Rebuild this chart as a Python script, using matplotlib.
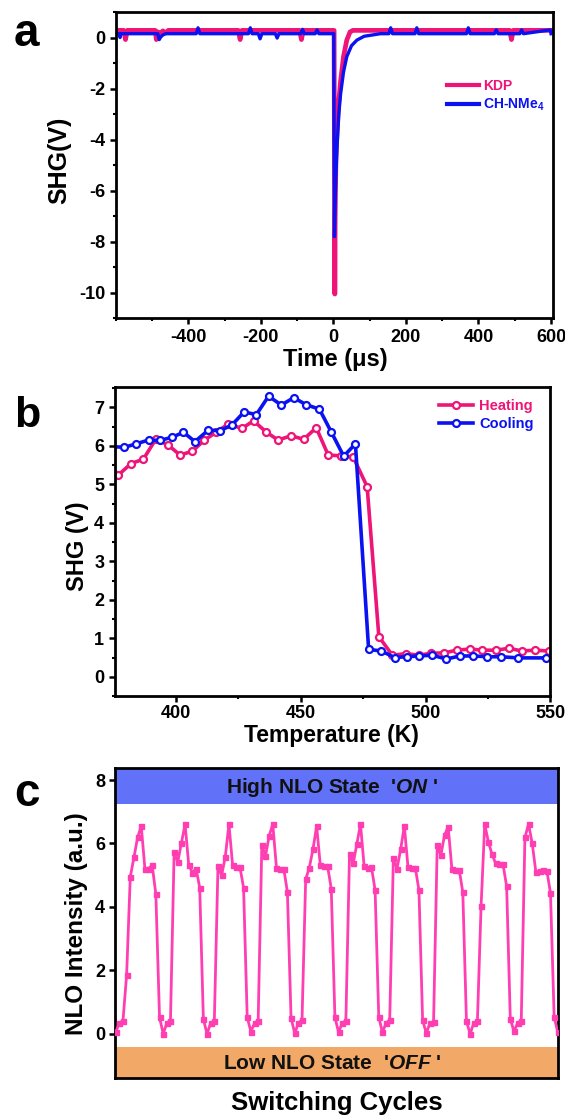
import matplotlib
matplotlib.use('Agg')
import matplotlib.pyplot as plt
from matplotlib.ticker import MultipleLocator, NullLocator
import numpy as np

plt.rcParams['font.family'] = ['Liberation Sans', 'DejaVu Sans']
plt.rcParams['font.weight'] = 'bold'
plt.rcParams['axes.labelweight'] = 'bold'
plt.rcParams['axes.unicode_minus'] = False
plt.rcParams['mathtext.fontset'] = 'custom'
plt.rcParams['mathtext.rm'] = 'Liberation Sans:bold'
plt.rcParams['mathtext.bf'] = 'Liberation Sans:bold'
plt.rcParams['mathtext.it'] = 'Liberation Sans:italic:bold'
plt.rcParams['mathtext.default'] = 'bf'

# ---------------- data: panel a (SHG signal vs time) ----------------
kdp_t = [-600, -578, -573, -568, -496, -491, -488, -484, -476, -470, -462, -455,
         -262, -257, -252, -93, -88, -83, 2, 4, 5, 7, 10, 15, 20, 28, 37, 46, 54,
         486, 491, 496, 600]
kdp_v = [0.28, 0.28, -0.08, 0.28, 0.28, 0.28, -0.08, 0.22, 0.18, 0.26, 0.18, 0.28,
         0.28, -0.08, 0.28, 0.28, -0.08, 0.28, 0.28, -10.05, -7.0, -4.8, -3.7, -2.5,
         -1.7, -0.75, -0.1, 0.22, 0.28, 0.28, -0.08, 0.28, 0.28]
ch_t = [-600, -590, -588, -586, -484, -480, -476, -470, -462, -378, -373, -368,
        -234, -229, -224, -207, -202, -197, -160, -155, -150, -90, -85, -80,
        -50, -45, -40, 1, 3, 6, 10, 15, 20, 28, 37, 50, 65, 85, 130,
        153, 158, 163, 225, 230, 235, 367, 372, 377, 444, 449, 454, 514, 519, 524,
        598, 600]
ch_v = [0.15, 0.15, 0.0, 0.15, 0.15, -0.08, 0.02, 0.1, 0.15, 0.15, 0.38, 0.15,
        0.15, 0.38, 0.15, 0.15, -0.05, 0.15, 0.15, -0.02, 0.15, 0.15, 0.32, 0.15,
        0.15, 0.3, 0.15, 0.15, -7.8, -5.8, -4.3, -3.0, -2.2, -1.35, -0.75, -0.32,
        -0.1, 0.05, 0.15, 0.15, 0.38, 0.15, 0.15, 0.38, 0.15, 0.15, 0.38, 0.15,
        0.15, 0.3, 0.15, 0.15, 0.3, 0.15, 0.3, 0.15]

# ---------------- data: panel b (SHG vs temperature) ----------------
heat_T = [372.5, 376.9, 382.0, 386.9, 391.9, 396.7, 401.6, 406.6, 411.4, 416.1,
          421.0, 426.4, 431.1, 436.1, 440.9, 446.1, 451.2, 456.2, 461.0, 466.0,
          471.0, 476.6, 481.3, 486.7, 492.0, 497.4, 502.1, 507.4, 512.5, 517.8,
          522.8, 528.2, 533.5, 538.5, 543.9, 549.3]
heat_V = [5.60, 5.24, 5.54, 5.65, 6.17, 6.03, 5.76, 5.86, 6.15, 6.35,
          6.57, 6.45, 6.65, 6.36, 6.15, 6.26, 6.17, 6.47, 5.76, 5.74,
          5.71, 4.94, 1.04, 0.56, 0.60, 0.56, 0.61, 0.62, 0.69, 0.72,
          0.69, 0.69, 0.74, 0.67, 0.69, 0.67]
cool_T = [374.5, 379.3, 384.0, 389.0, 393.6, 398.3, 403.0, 407.6, 413.0, 417.6,
          422.4, 427.3, 432.2, 437.1, 442.2, 447.2, 452.1, 457.5, 462.3, 467.2,
          471.9, 477.2, 482.3, 487.6, 492.4, 497.4, 502.7, 508.3, 513.8, 519.2,
          524.8, 530.1, 537.2, 548.1]
cool_V = [5.98, 5.96, 6.05, 6.15, 6.14, 6.22, 6.35, 6.11, 6.41, 6.39,
          6.54, 6.88, 6.81, 7.29, 7.06, 7.25, 7.07, 6.95, 6.35, 5.73,
          6.05, 0.71, 0.67, 0.50, 0.52, 0.54, 0.56, 0.46, 0.54, 0.54,
          0.52, 0.52, 0.49, 0.49]

# ---------------- data: panel c (switching cycles) ----------------
cyc1 = [0.05, 0.34, 0.42, 1.86, 4.95, 5.56, 6.19, 6.55, 5.21, 5.21, 5.31, 4.40, 0.53, 0.00, 0.34, 0.42]
cyc2 = [5.72, 5.42, 6.02, 6.61, 5.32, 5.08, 5.21, 4.61, 0.47, 0.00, 0.34, 0.40]
cyc3 = [5.29, 5.00, 5.58, 6.61, 5.32, 5.26, 5.26, 4.61, 0.53, 0.07, 0.34, 0.42]
cyc4 = [5.95, 5.60, 6.24, 6.61, 5.24, 5.19, 5.21, 4.47, 0.50, 0.02, 0.34, 0.44]
cyc5 = [4.87, 5.24, 5.82, 6.55, 5.32, 5.28, 5.28, 4.58, 0.53, 0.05, 0.34, 0.42]
cyc6 = [5.68, 5.37, 5.98, 6.61, 5.28, 5.24, 5.26, 4.53, 0.53, 0.05, 0.34, 0.44]
cyc7 = [5.53, 5.21, 5.82, 6.55, 5.26, 5.24, 5.24, 4.53, 0.44, 0.02, 0.34, 0.37]
cyc8 = [5.95, 5.63, 6.26, 6.53, 5.21, 5.18, 5.18, 4.47, 0.40, 0.00, 0.34, 0.40]
cyc9 = [4.02, 6.61, 6.05, 5.66, 5.37, 5.35, 5.35, 4.65, 0.47, 0.08, 0.34, 0.42]
cyc10 = [6.19, 6.61, 6.00, 5.10, 5.14, 5.16, 5.14, 4.44, 0.53, 0.05]
nlo = cyc1 + cyc2 + cyc3 + cyc4 + cyc5 + cyc6 + cyc7 + cyc8 + cyc9 + cyc10
nlo_x = np.arange(len(nlo))

a_xticks = [-400, -200, 0, 200, 400, 600]
a_yticks = [-10, -8, -6, -4, -2, 0]
b_xticks = [400, 450, 500, 550]
b_yticks = [0, 1, 2, 3, 4, 5, 6, 7]
c_yticks = [0, 2, 4, 6, 8]

# ---------------- colours ----------------
PINK = '#EE1478'
BLUE = '#0A12F2'
PINK_C = '#FF3EB2'
BAND_ON = '#6272F8'
BAND_OFF = '#F2A867'

W, H = 565, 1116
fig = plt.figure(figsize=(W / 100, H / 100), dpi=100)


def rect(l, t, r, b):
    return [l / W, 1 - b / H, (r - l) / W, (b - t) / H]


def style(ax, pad=3):
    for s in ax.spines.values():
        s.set_linewidth(2.0)
    ax.tick_params(which='major', direction='out', length=4.5, width=1.8,
                   labelsize=13, pad=pad)
    ax.tick_params(which='minor', direction='out', length=2.5, width=1.5)
    ax.tick_params(top=False, right=False, which='both')


# ---------------- panel a ----------------
axA = fig.add_axes(rect(115.7, 12, 553.2, 318.3))
axA.plot(kdp_t, kdp_v, color=PINK, lw=3.4, label='KDP')
axA.plot(ch_t, ch_v, color=BLUE, lw=2.4, label=r'CH-NMe$_4$')
axA.set_xlim(-600, 606)
axA.set_ylim(-11, 1)
axA.set_xticks(a_xticks)
axA.set_yticks(a_yticks)
axA.xaxis.set_minor_locator(MultipleLocator(100))
axA.yaxis.set_minor_locator(MultipleLocator(1))
style(axA)
axA.set_xlabel('Time (\u03bcs)', fontsize=17, va='center')
axA.xaxis.set_label_coords(0.501, -0.135)
axA.set_ylabel('SHG(V)', fontsize=18, va='center')
axA.yaxis.set_label_coords(-0.128, 0.517)
legA = axA.legend(loc='upper left', bbox_to_anchor=(0.757, 0.781), frameon=False,
                  fontsize=10, handlelength=2.3, handletextpad=0.3,
                  borderpad=0, borderaxespad=0, labelspacing=0.25,
                  labelcolor='linecolor')
for ln in legA.get_lines():
    ln.set_linewidth(3)

# ---------------- panel b ----------------
axB = fig.add_axes(rect(114.6, 387.3, 550.3, 696))
axB.plot(heat_T, heat_V, color=PINK, lw=2.6, marker='o', ms=5, mfc='white',
         mec=PINK, mew=1.6, label='Heating')
axB.plot(cool_T, cool_V, color=BLUE, lw=2.6, marker='o', ms=5, mfc='white',
         mec=BLUE, mew=1.6, label='Cooling')
axB.set_xlim(375.4, 550)
axB.set_ylim(-0.5, 7.52)
axB.set_xticks(b_xticks)
axB.set_yticks(b_yticks)
axB.xaxis.set_minor_locator(MultipleLocator(25))
axB.yaxis.set_minor_locator(MultipleLocator(0.5))
style(axB)
axB.tick_params(axis='x', which='major', pad=2)
axB.set_xlabel('Temperature (K)', fontsize=16.5, va='center')
axB.xaxis.set_label_coords(0.498, -0.127)
axB.set_ylabel('SHG (V)', fontsize=17, va='center')
axB.yaxis.set_label_coords(-0.085, 0.484)
axB.legend(loc='upper left', bbox_to_anchor=(0.7446, 0.962), frameon=False,
           fontsize=10.5, handlelength=2.3, handletextpad=0.45, numpoints=1,
           borderpad=0, borderaxespad=0, labelspacing=0.3,
           labelcolor='linecolor')

# ---------------- panel c ----------------
axC = fig.add_axes(rect(115.3, 768.3, 557.8, 1078.3))
c_ylim = (-1.4, 8.37)
axC.axhspan(7.23, c_ylim[1], color=BAND_ON, lw=0, zorder=0)
axC.axhspan(c_ylim[0], -0.4, color=BAND_OFF, lw=0, zorder=0)
axC.plot(nlo_x, nlo, color=PINK_C, lw=2.0, marker='s', ms=3.6, mec=PINK_C,
         zorder=3)
axC.set_xlim(-0.1, len(nlo) - 1)
axC.set_ylim(*c_ylim)
axC.set_yticks(c_yticks)
axC.xaxis.set_major_locator(NullLocator())
style(axC)
axC.text(0.49, 7.78, "High NLO State  '$\\mathit{ON}$ '", fontsize=15,
         ha='center', va='center', transform=axC.get_yaxis_transform(), color='#111111')
axC.text(0.49, -0.92, "Low NLO State  '$\\mathit{OFF}$ '", fontsize=15,
         ha='center', va='center', transform=axC.get_yaxis_transform(), color='#111111')
axC.set_xlabel('Switching Cycles', fontsize=18.5, va='center')
axC.xaxis.set_label_coords(0.501, -0.0787)
axC.set_ylabel('NLO Intensity (a.u.)', fontsize=17.5, va='center')
axC.yaxis.set_label_coords(-0.0866, 0.5)

# ---------------- panel letters ----------------
fig.text(14 / W, 1 - 46 / H, 'a', fontsize=33, fontweight='bold', ha='left', va='baseline')
fig.text(14 / W, 1 - 427 / H, 'b', fontsize=31, fontweight='bold', ha='left', va='baseline')
fig.text(14 / W, 1 - 806 / H, 'c', fontsize=33, fontweight='bold', ha='left', va='baseline')

fig.savefig('out.png', dpi=100)
